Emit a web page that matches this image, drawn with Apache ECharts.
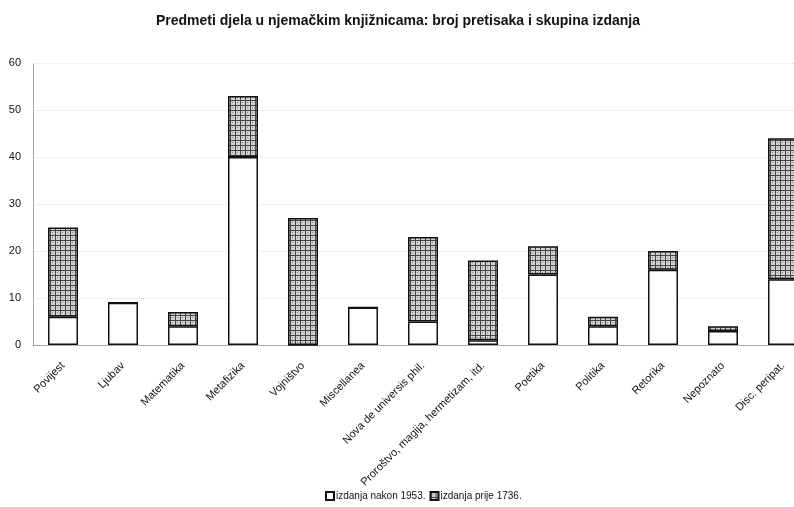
<!DOCTYPE html>
<html>
<head>
<meta charset="utf-8">
<script src="https://cdn.jsdelivr.net/npm/echarts@6/dist/echarts.min.js"></script>
<style>
  html, body { margin: 0; padding: 0; background: #fff; overflow: hidden; }
  #main { width: 813px; height: 507px; }
</style>
</head>
<body>
<div id="main"></div>
<script>
const categories = ['Povijest', 'Ljubav', 'Matematika', 'Metafizika', 'Vojništvo', 'Miscellanea',
  'Nova de universis phil.', 'Proroštvo, magija, hermetizam, itd.', 'Poetika', 'Politika',
  'Retorika', 'Nepoznato', 'Disc. peripat.'];
const nakon1953 = [6, 9, 4, 40, 0, 8, 5, 1, 15, 4, 16, 3, 14];
const prije1736 = [19, 0, 3, 13, 27, 0, 18, 17, 6, 2, 4, 1, 30];
const yTicks = [0, 10, 20, 30, 40, 50, 60];

// crosshatch fill for the older editions
function hatch() {
  let c = document.createElement('canvas');
  c.width = 5; c.height = 5;
  let ctx = c.getContext('2d');
  ctx.fillStyle = '#d2d2d2';
  ctx.fillRect(0, 0, 5, 5);
  ctx.fillStyle = '#444';
  ctx.fillRect(0, 0, 5, 1);
  ctx.fillRect(0, 0, 1, 5);
  ctx.fillStyle = '#888';
  ctx.fillRect(2, 2, 1, 1);
  return c;
}

// the page is 794 wide; the plot runs a little past its right edge, as in the scan
let chart = echarts.init(document.getElementById('main'));
let option = {
  animation: false,
  title: {
    text: 'Predmeti djela u njemačkim knjižnicama: broj pretisaka i skupina izdanja',
    left: 151,
    top: 9,
    textStyle: { fontFamily: 'Liberation Sans', fontSize: 14, fontWeight: 'bold', color: '#111' }
  },
  legend: {
    bottom: 1,
    left: 320,
    icon: 'rect',
    itemWidth: 8,
    itemHeight: 8,
    itemGap: 4,
    textStyle: { fontFamily: 'Liberation Sans', fontSize: 10, color: '#111', padding: [0, 0, 0, -3] },
    data: ['izdanja nakon 1953.', 'izdanja prije 1736.']
  },
  grid: { left: 33, right: 0, top: 63, bottom: 162 },
  xAxis: {
    type: 'category',
    data: categories,
    axisLine: { lineStyle: { color: '#999', type: 'dotted' } },
    axisTick: { show: false },
    axisLabel: {
      interval: 0,
      rotate: 45,
      margin: 19,
      fontFamily: 'Liberation Sans',
      fontSize: 11,
      color: '#111'
    }
  },
  yAxis: {
    type: 'value',
    min: 0,
    max: yTicks[yTicks.length - 1],
    interval: 10,
    axisLine: { show: true, lineStyle: { color: '#999', type: 'dotted' } },
    axisTick: { show: false },
    splitLine: { lineStyle: { color: '#e4e4e4', type: 'dotted' } },
    axisLabel: { margin: 12, fontFamily: 'Liberation Sans', fontSize: 11, color: '#111' }
  },
  series: [
    {
      name: 'izdanja nakon 1953.',
      type: 'bar',
      stack: 'a',
      barWidth: 30,
      data: nakon1953,
      itemStyle: { color: '#fff', borderColor: '#111', borderWidth: 1.5 }
    },
    {
      name: 'izdanja prije 1736.',
      type: 'bar',
      stack: 'a',
      barWidth: 30,
      data: prije1736,
      itemStyle: { color: { image: hatch(), repeat: 'repeat' }, borderColor: '#111', borderWidth: 1.5 }
    }
  ]
};
chart.setOption(option);
</script>
</body>
</html>
